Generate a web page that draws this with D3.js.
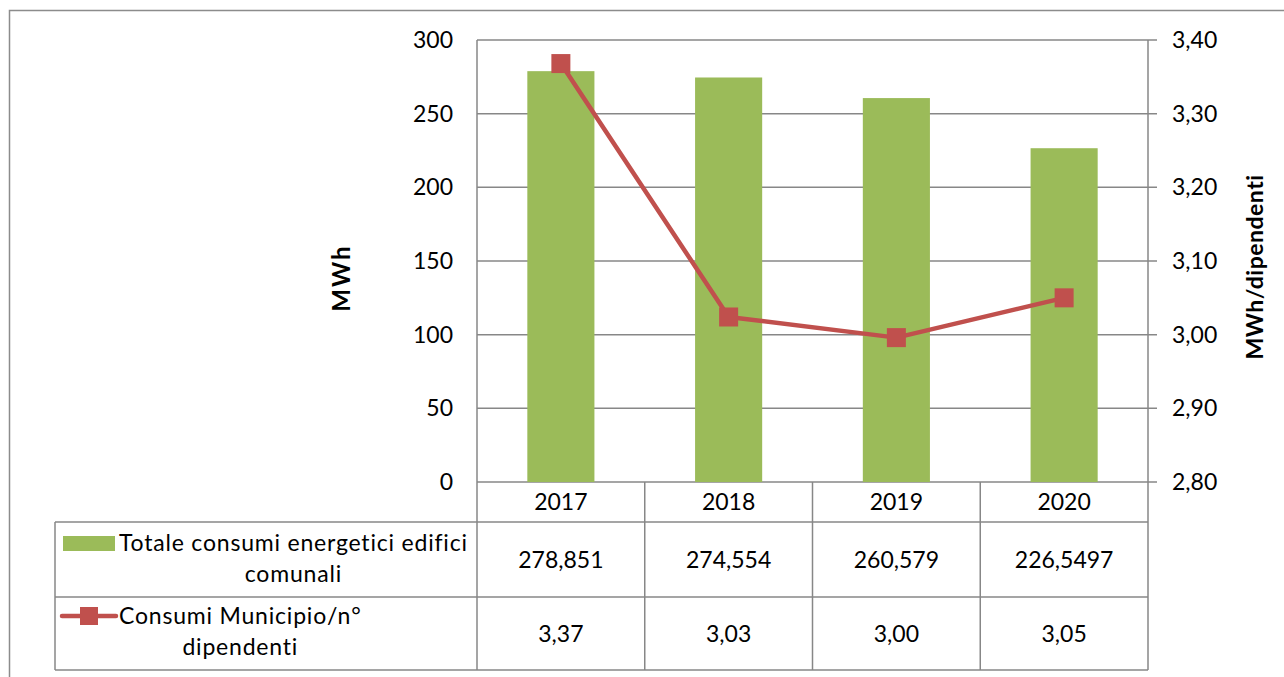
<!DOCTYPE html>
<html><head><meta charset="utf-8">
<script src="https://cdn.jsdelivr.net/npm/d3@7"></script>
<style>body{margin:0;background:#fff;} svg{display:block;} text{font-family:Lato,"Open Sans",sans-serif;fill:#000;font-variant-ligatures:none;}</style>
</head><body><svg id="c" width="1284" height="677"></svg>
<script>
const years = ["2017","2018","2019","2020"];
const totals = [278.851, 274.554, 260.579, 226.5497];
const totalLabels = ["278,851","274,554","260,579","226,5497"];
const ratio = [3.368, 3.024, 2.996, 3.05];
const ratioLabels = ["3,37","3,03","3,00","3,05"];
const leftTicks = [0,50,100,150,200,250,300];
const rightTicks = [2.8,2.9,3.0,3.1,3.2,3.3,3.4];
const seriesNames = [["Totale consumi energetici edifici","comunali"],["Consumi Municipio/n°","dipendenti"]];

const svg = d3.select("#c");
const L=477, R=1148, T=40, B=482;
const gridC="#878787", green="#9BBB59", red="#C0504D";
const fs=23;

svg.append("path").attr("d","M9.5,677 V10.5 H1284").attr("fill","none").attr("stroke","#8c8c8c").attr("stroke-width",1.5);

const x = d3.scaleBand().domain(years).range([L,R]).padding(0);
const yL = d3.scaleLinear().domain([0,300]).range([B,T]);
const yR = d3.scaleLinear().domain([2.8,3.4]).range([B,T]);

svg.append("g").selectAll("line").data(leftTicks).join("line")
  .attr("x1",L).attr("x2",R+9).attr("y1",d=>yL(d)).attr("y2",d=>yL(d))
  .attr("stroke",gridC).attr("stroke-width",1.5);
svg.append("line").attr("x1",L).attr("x2",L).attr("y1",T).attr("y2",B).attr("stroke",gridC).attr("stroke-width",1.5);
svg.append("line").attr("x1",R).attr("x2",R).attr("y1",T).attr("y2",B).attr("stroke",gridC).attr("stroke-width",1.5);

svg.append("g").selectAll("text").data(leftTicks).join("text")
  .attr("x",453).attr("y",d=>yL(d)).attr("dy","0.35em").attr("text-anchor","end")
  .style("font-size",fs+"px").text(d=>d);
svg.append("g").selectAll("text").data(rightTicks).join("text")
  .attr("x",1172).attr("y",d=>yR(d)).attr("dy","0.35em").attr("text-anchor","start")
  .style("font-size",fs+"px").text(d=>d3.format(".2f")(d).replace(".",","));

svg.append("text").attr("transform",`translate(350,${(T+B)/2+17}) rotate(-90)`).attr("text-anchor","middle")
  .style("font-size","24px").style("font-weight","bold").style("letter-spacing","2px").text("MWh");
svg.append("text").attr("transform",`translate(1263,${(T+B)/2+6}) rotate(-90)`).attr("text-anchor","middle")
  .style("font-size",fs+"px").style("font-weight","bold").style("letter-spacing","0.5px").text("MWh/dipendenti");

const bw = x.bandwidth()*0.4;
svg.append("g").selectAll("rect").data(years).join("rect")
  .attr("x",(d)=>x(d)+x.bandwidth()/2-bw/2).attr("width",bw)
  .attr("y",(d,i)=>yL(totals[i])).attr("height",(d,i)=>B-yL(totals[i]))
  .attr("fill",green);

const line = d3.line().x((d,i)=>x(years[i])+x.bandwidth()/2).y(d=>yR(d));
svg.append("path").attr("d",line(ratio)).attr("fill","none").attr("stroke",red).attr("stroke-width",4.5).attr("stroke-linejoin","round");
const ms=19;
svg.append("g").selectAll("rect").data(ratio).join("rect")
  .attr("x",(d,i)=>x(years[i])+x.bandwidth()/2-ms/2).attr("y",d=>yR(d)-ms/2)
  .attr("width",ms).attr("height",ms).attr("fill",red);

const r1=522, r2=597, r3=670, TL=55;
const tg = svg.append("g").attr("stroke",gridC).attr("stroke-width",1.5);
[r1,r2,r3].forEach(yy=>tg.append("line").attr("x1",TL).attr("x2",R).attr("y1",yy).attr("y2",yy));
tg.append("line").attr("x1",TL).attr("x2",TL).attr("y1",r1).attr("y2",r3);
const cols = years.map(d=>x(d)).concat([R]);
cols.forEach(cx=>tg.append("line").attr("x1",cx).attr("x2",cx).attr("y1",B).attr("y2",r3));

const cx = d=>x(d)+x.bandwidth()/2;
svg.append("g").selectAll("text").data(years).join("text")
  .attr("x",cx).attr("y",(B+r1)/2).attr("dy","0.35em").attr("text-anchor","middle").style("font-size",fs+"px").text(d=>d);
svg.append("g").selectAll("text").data(years).join("text")
  .attr("x",cx).attr("y",(r1+r2)/2).attr("dy","0.35em").attr("text-anchor","middle").style("font-size",fs+"px").text((d,i)=>totalLabels[i]);
svg.append("g").selectAll("text").data(years).join("text")
  .attr("x",cx).attr("y",(r2+r3)/2).attr("dy","0.35em").attr("text-anchor","middle").style("font-size",fs+"px").text((d,i)=>ratioLabels[i]);

svg.append("rect").attr("x",63).attr("y",536).attr("width",52).attr("height",15).attr("fill",green);
svg.append("line").attr("x1",62).attr("x2",116).attr("y1",616).attr("y2",616).attr("stroke",red).attr("stroke-width",4.5).attr("stroke-linecap","round");
svg.append("rect").attr("x",80).attr("y",607).attr("width",18).attr("height",18).attr("fill",red);

function legendText(lines, y0, x0){
  const t1 = svg.append("text").attr("x",x0).attr("y",y0).attr("dy","0.35em").style("font-size",fs+"px").style("letter-spacing","0.8px").text(lines[0]);
  const w = t1.node().getComputedTextLength();
  svg.append("text").attr("x",x0+w/2).attr("y",y0+31).attr("dy","0.35em").attr("text-anchor","middle").style("font-size",fs+"px").style("letter-spacing","0.8px").text(lines[1]);
}
legendText(seriesNames[0],543,119);
legendText(seriesNames[1],616,119);
</script></body></html>
